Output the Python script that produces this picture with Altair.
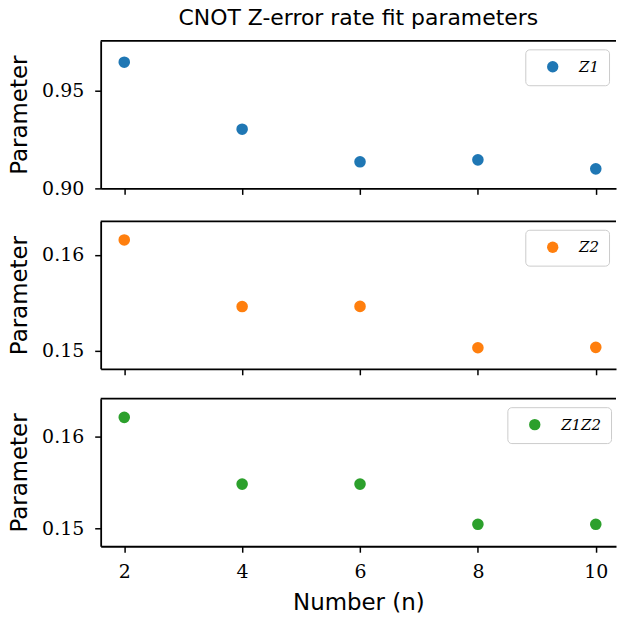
import altair as alt
import pandas as pd

# ---- data ----
n_values = [2, 4, 6, 8, 10]
z1_values = [0.9646, 0.9303, 0.9136, 0.9146, 0.9100]
z2_values = [0.16157, 0.15461, 0.15463, 0.15031, 0.15035]
z1z2_values = [0.16214, 0.15486, 0.15486, 0.15048, 0.15048]
series_names = ["Z1", "Z2", "Z1Z2"]
series_colors = ["#1f77b4", "#ff7f0e", "#2ca02c"]
y_domains = [[0.90, 0.9755], [0.14811, 0.16352], [0.14809, 0.16417]]
y_tick_values = [[0.90, 0.95], [0.15, 0.16], [0.15, 0.16]]
x_tick_values = [2, 4, 6, 8, 10]
x_domain = [1.6, 10.343]
legend_x = [426, 426, 408]

W = 517
H = 148
LINE_W = 1.8


def panel(i, values, bottom):
    df = pd.DataFrame({"n": n_values, "value": values, "series": series_names[i]})
    if bottom:
        x_axis = alt.Axis(values=x_tick_values, title="Number (n)", labelPadding=10,
                          titlePadding=10, format="d")
    else:
        x_axis = alt.Axis(values=x_tick_values, labels=False, title=None)
    pts = alt.Chart(df).mark_circle(size=135, opacity=1).encode(
        x=alt.X("n:Q", scale=alt.Scale(domain=x_domain, nice=False, zero=False), axis=x_axis),
        y=alt.Y("value:Q", scale=alt.Scale(domain=y_domains[i], nice=False, zero=False),
                axis=alt.Axis(values=y_tick_values[i], format=".2f", title="Parameter",
                              labelPadding=11, titlePadding=10)),
        color=alt.Color("series:N",
                        scale=alt.Scale(domain=[series_names[i]], range=[series_colors[i]]),
                        legend=alt.Legend(title=None, orient="none", legendX=legend_x[i],
                                          legendY=8.5)),
    )
    frame_df = pd.DataFrame({"k": [0]})
    top_rule = alt.Chart(frame_df).mark_rule(color="black", strokeWidth=LINE_W).encode(
        x=alt.value(0), x2=alt.value(W), y=alt.value(0)
    )
    ch = alt.layer(pts, top_rule).properties(width=W, height=H)
    if i == 0:
        ch = ch.properties(title=alt.TitleParams(
            "CNOT Z-error rate fit parameters", font="DejaVu Sans", fontSize=22,
            fontWeight="normal", color="black", anchor="middle", offset=10))
    return ch


chart = alt.vconcat(
    panel(0, z1_values, False),
    panel(1, z2_values, False),
    panel(2, z1z2_values, True),
    spacing=22,
).resolve_scale(color="independent").resolve_legend(color="independent").properties(
    padding={"left": 8, "top": 6, "right": 0, "bottom": 4}
).configure_view(stroke=None).configure_axis(
    domainColor="black", domainWidth=LINE_W, tickColor="black", tickWidth=1.5, tickSize=6,
    labelFont="DejaVu Serif", labelFontSize=19, labelColor="black", labelFlush=False,
    titleFont="DejaVu Sans", titleFontSize=23, titleFontWeight="normal", titleColor="black",
    grid=False,
).configure_legend(
    padding=10, symbolOffset=10, labelOffset=19, strokeColor="#cccccc", cornerRadius=4,
    fillColor="white", symbolSize=130, symbolType="circle", symbolStrokeWidth=0,
    labelFont="DejaVu Serif", labelFontStyle="italic", labelFontSize=15, labelColor="black",
)

chart.save("out.html", embed_options={"renderer": "svg", "actions": False})
